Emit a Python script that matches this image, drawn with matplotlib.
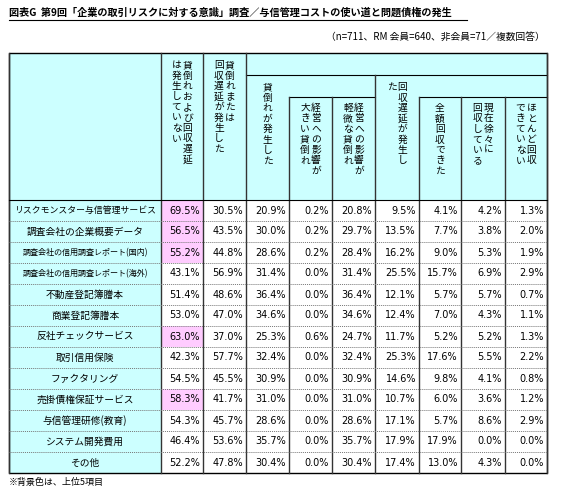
import matplotlib.pyplot as plt
import matplotlib.patches as patches

plt.rcParams['font.family'] = ['Noto Sans CJK JP', 'DejaVu Sans']

title = "図表G  第9回「企業の取引リスクに対する意識」調査／与信管理コストの使い道と問題債権の発生"
subtitle = "（n=711、RM 会員=640、非会員=71／複数回答）"
footnote = "※背景色は、上位5項目"

rows = [
    "リスクモンスター与信管理サービス", "調査会社の企業概要データ",
    "調査会社の信用調査レポート(国内)", "調査会社の信用調査レポート(海外)",
    "不動産登記簿謄本", "商業登記簿謄本", "反社チェックサービス", "取引信用保険",
    "ファクタリング", "売掛債権保証サービス", "与信管理研修(教育)",
    "システム開発費用", "その他",
]
no_loss = [69.5, 56.5, 55.2, 43.1, 51.4, 53.0, 63.0, 42.3, 54.5, 58.3, 54.3, 46.4, 52.2]
any_loss = [30.5, 43.5, 44.8, 56.9, 48.6, 47.0, 37.0, 57.7, 45.5, 41.7, 45.7, 53.6, 47.8]
bad_debt = [20.9, 30.0, 28.6, 31.4, 36.4, 34.6, 25.3, 32.4, 30.9, 31.0, 28.6, 35.7, 30.4]
bad_large = [0.2, 0.2, 0.2, 0.0, 0.0, 0.0, 0.6, 0.0, 0.0, 0.0, 0.0, 0.0, 0.0]
bad_small = [20.8, 29.7, 28.4, 31.4, 36.4, 34.6, 24.7, 32.4, 30.9, 31.0, 28.6, 35.7, 30.4]
delay = [9.5, 13.5, 16.2, 25.5, 12.1, 12.4, 11.7, 25.3, 14.6, 10.7, 17.1, 17.9, 17.4]
full_rec = [4.1, 7.7, 9.0, 15.7, 5.7, 7.0, 5.2, 17.6, 9.8, 6.0, 5.7, 17.9, 13.0]
partial_rec = [4.2, 3.8, 5.3, 6.9, 5.7, 4.3, 5.2, 5.5, 4.1, 3.6, 8.6, 0.0, 4.3]
no_rec = [1.3, 2.0, 1.9, 2.9, 0.7, 1.1, 1.3, 2.2, 0.8, 1.2, 2.9, 0.0, 0.0]
top5 = [0, 1, 2, 6, 9]

# vertical header text, columns listed right-to-left
headers = [
    ["貸倒れおよび回収遅延", "は発生していない"],
    ["貸倒れまたは", "回収遅延が発生した"],
    ["貸倒れが発生した"],
    ["経営への影響が", "大きい貸倒れ"],
    ["経営への影響が", "軽微な貸倒れ"],
    ["回収遅延が発生し", "た"],
    ["全額回収できた"],
    ["現在徐々に", "回収している"],
    ["ほとんど回収", "できていない"],
]
columns = [no_loss, any_loss, bad_debt, bad_large, bad_small, delay, full_rec, partial_rec, no_rec]

cyan = "#ccffff"
pink = "#ffccff"
xs = [9, 161, 203, 246, 289, 332, 375, 419, 461, 505, 547]
top, head_bot, row_h = 53, 200, 21.0
bottom = head_bot + row_h * len(rows)
head_top = [60, 60, 82, 103, 103, 82, 103, 103, 103]

fig = plt.figure(figsize=(5.64, 5.0), dpi=100)
ax = fig.add_axes([0, 0, 1, 1])
ax.set_xlim(0, 564)
ax.set_ylim(500, 0)
ax.axis("off")

ax.text(9, 13, title, fontsize=7.3, fontweight="bold", va="center")
ax.plot([9, 467], [20, 20], color="black", lw=0.8)
ax.text(545, 37, subtitle, fontsize=7, va="center", ha="right")
ax.text(9, 482, footnote, fontsize=6.5, va="center")

ax.add_patch(patches.Rectangle((xs[0], top), xs[-1] - xs[0], head_bot - top, facecolor=cyan, edgecolor="none"))
ax.add_patch(patches.Rectangle((xs[0], head_bot), xs[1] - xs[0], bottom - head_bot, facecolor=cyan, edgecolor="none"))
for r in top5:
    ax.add_patch(patches.Rectangle((xs[1], head_bot + r * row_h), xs[2] - xs[1], row_h, facecolor=pink, edgecolor="none"))

# header structure lines
ax.plot([xs[3], xs[-1]], [75, 75], color="black", lw=0.8)
ax.plot([xs[4], xs[6]], [97, 97], color="black", lw=0.8)
ax.plot([xs[7], xs[-1]], [97, 97], color="black", lw=0.8)
for i, x in enumerate(xs):
    y0 = top
    if i in (4, 5, 7, 8, 9):
        y0 = 97
    elif i == 6:
        y0 = 75
    ax.plot([x, x], [y0, bottom], color="#333333", lw=1.0)
ax.plot([xs[0], xs[-1]], [head_bot, head_bot], color="black", lw=0.8)
for r in range(1, len(rows)):
    y = head_bot + r * row_h
    ax.plot([xs[0], xs[-1]], [y, y], color="#777777", lw=0.7, ls=(0, (1, 1)))
ax.add_patch(patches.Rectangle((xs[0], top), xs[-1] - xs[0], bottom - top, facecolor="none", edgecolor="black", lw=1.0))

for c, cols in enumerate(headers):
    cx = (xs[c + 1] + xs[c + 2]) / 2
    n = len(cols)
    for k, txt in enumerate(cols):
        x = cx + (n - 1) * 5.5 - k * 11
        for j, ch in enumerate(txt):
            ax.text(x, head_top[c] + j * 10.5, ch, fontsize=7, ha="center", va="top")

for r, name in enumerate(rows):
    y = head_bot + (r + 0.5) * row_h
    if "レポート" in name:
        fs = 5.8
    elif len(name) > 14:
        fs = 6.4
    else:
        fs = 7
    ax.text((xs[0] + xs[1]) / 2, y, name, fontsize=fs, ha="center", va="center")
    for c, vals in enumerate(columns):
        ax.text(xs[c + 2] - 3, y, f"{vals[r]:.1f}%", fontsize=7, ha="right", va="center",
                family="DejaVu Sans")

fig.savefig("out.png", dpi=100)
